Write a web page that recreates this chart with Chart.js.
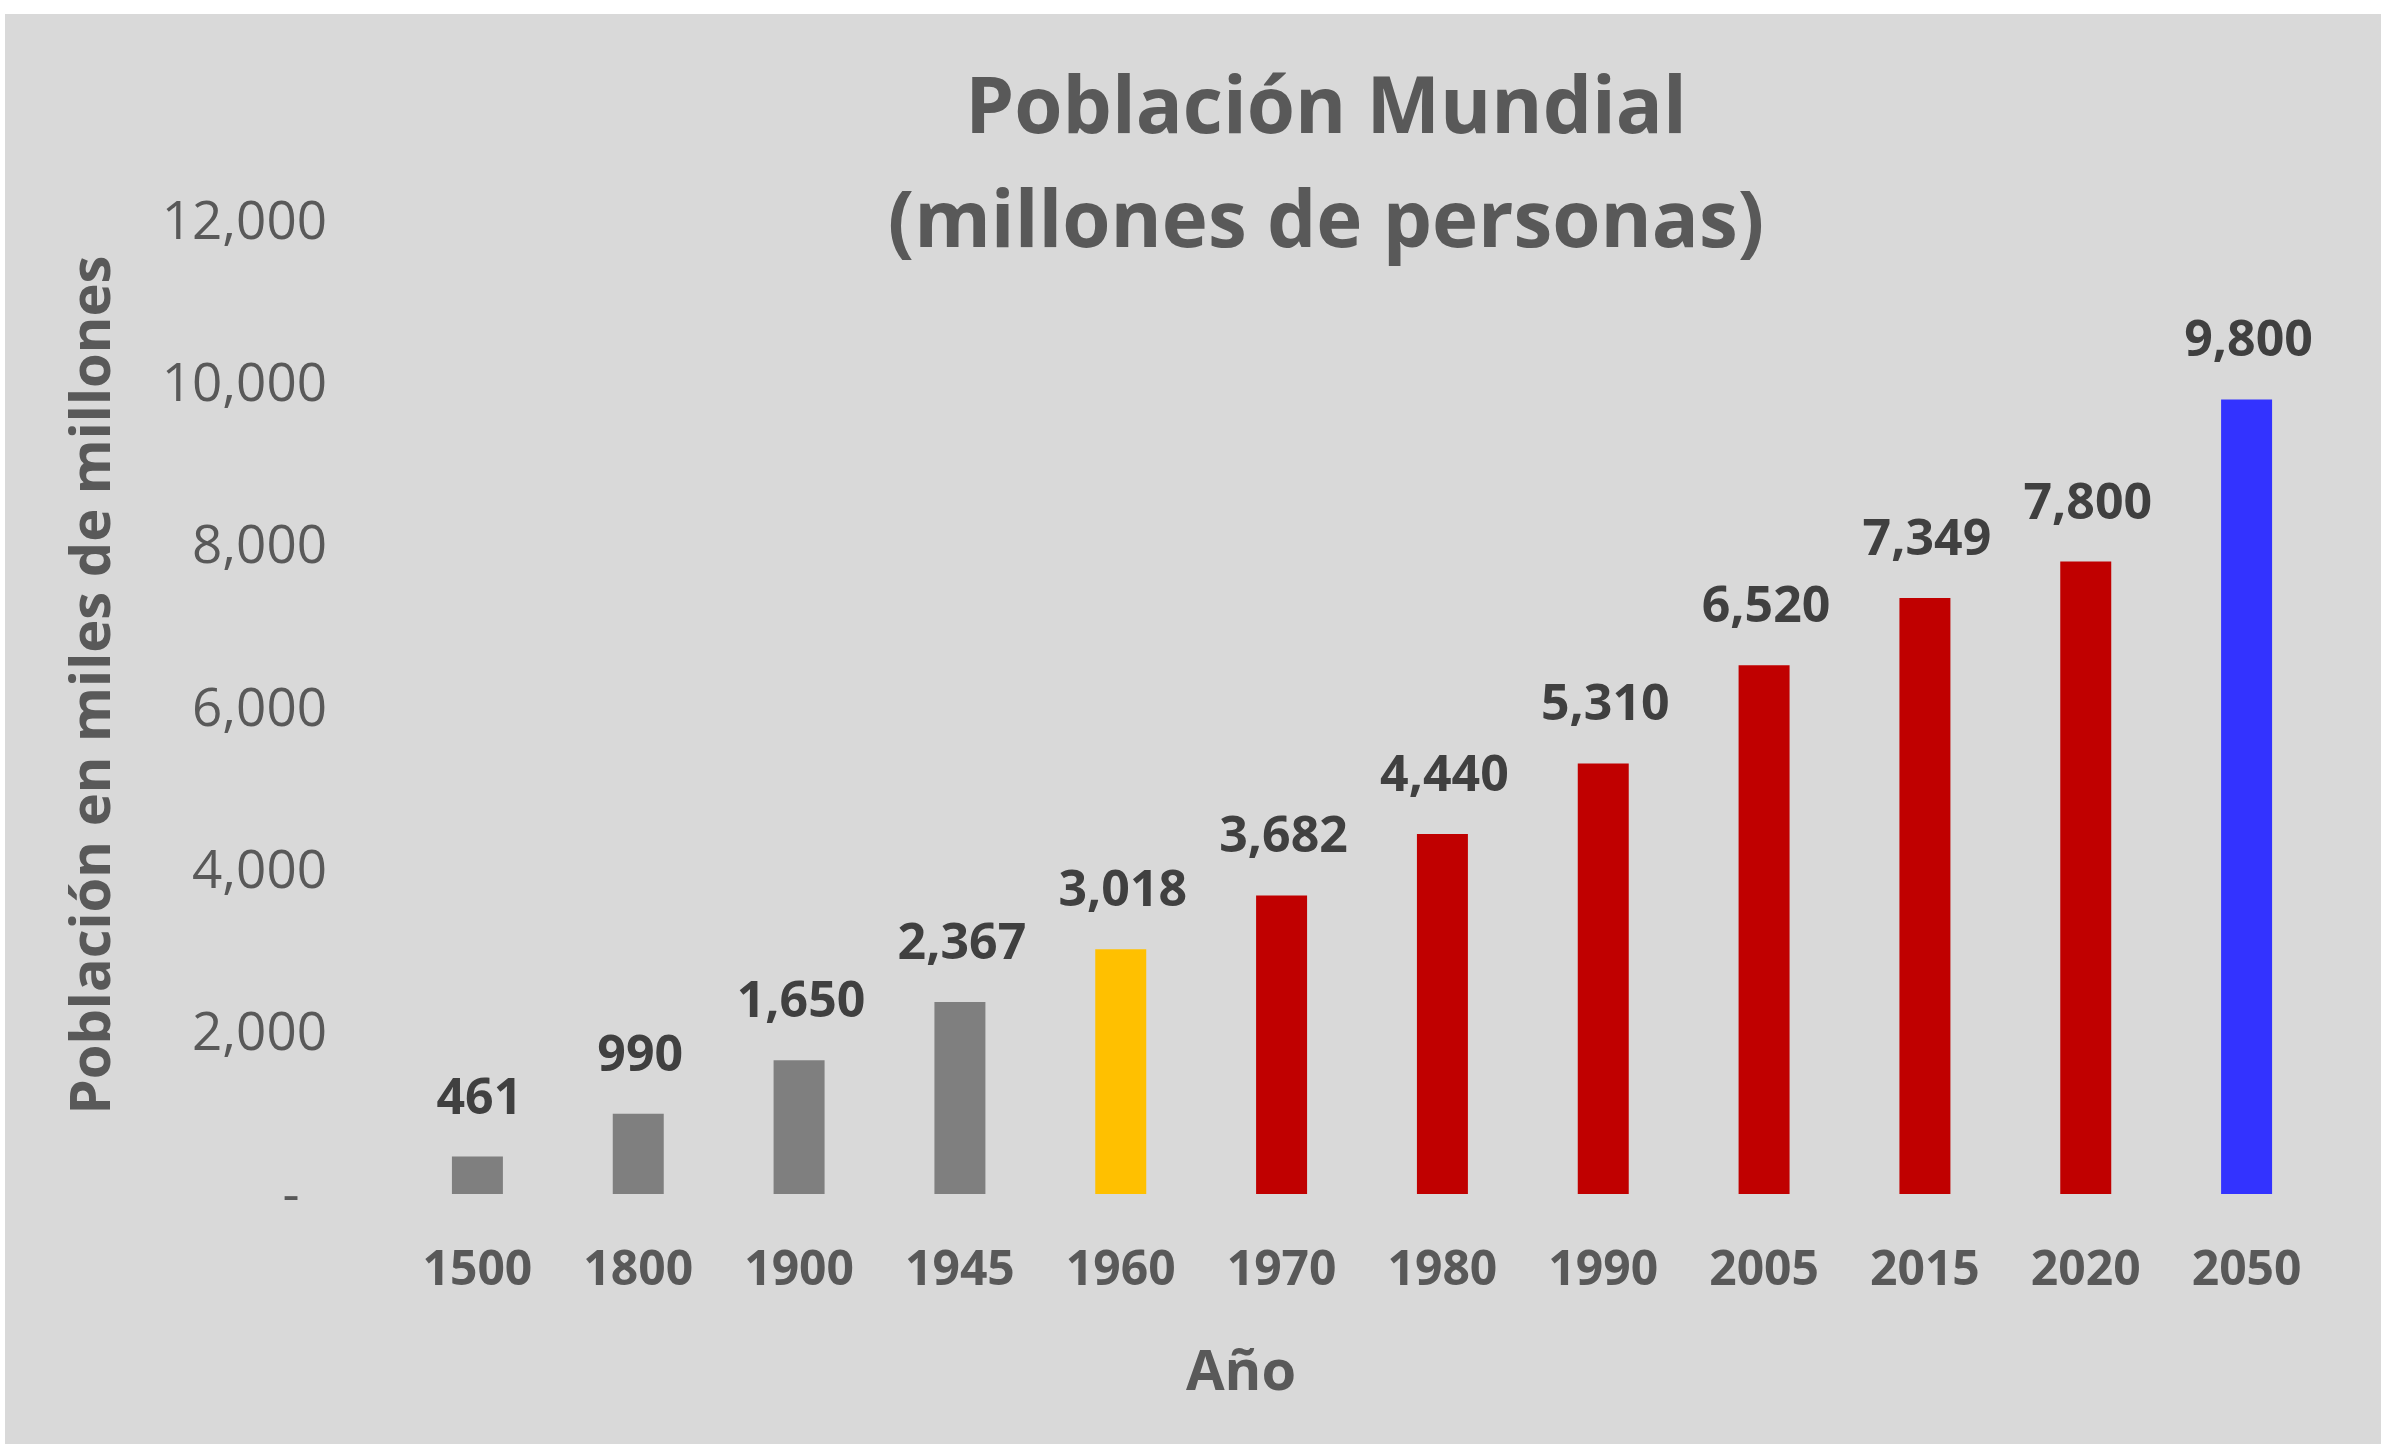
<!DOCTYPE html>
<html>
<head>
<meta charset="utf-8">
<script src="https://cdn.jsdelivr.net/npm/chart.js@4.4.1/dist/chart.umd.min.js"></script>
<style>
  html, body { margin: 0; padding: 0; background: #ffffff; width: 2381px; height: 1444px; overflow: hidden; }
  #wrap { position: absolute; left: 5px; top: 14px; width: 2376px; height: 1430px; background: #D9D9D9; }
  canvas { display: block; }
</style>
</head>
<body>
<div id="wrap"><canvas id="c" width="2376" height="1430"></canvas></div>
<script>
const categories = ['1500', '1800', '1900', '1945', '1960', '1970', '1980', '1990', '2005', '2015', '2020', '2050'];
const population = [461, 990, 1650, 2367, 3018, 3682, 4440, 5310, 6520, 7349, 7800, 9800];
const barColors = ['#7F7F7F', '#7F7F7F', '#7F7F7F', '#7F7F7F', '#FFC000', '#C00000', '#C00000', '#C00000', '#C00000', '#C00000', '#C00000', '#3333FF'];
const titleLines = ['Población Mundial', '(millones de personas)'];
const yAxisTitle = 'Población en miles de millones';
const xAxisTitle = 'Año';
const yTicks = { min: 0, max: 12000, step: 2000 };

const FONT = "'Open Sans', sans-serif";

const textPlugin = {
  id: 'texts',
  afterDatasetsDraw(chart) {
    const ctx = chart.ctx;
    const meta = chart.getDatasetMeta(0);
    ctx.save();
    // data labels
    ctx.font = 'bold 50px ' + FONT;
    ctx.fillStyle = '#404040';
    ctx.textAlign = 'center';
    ctx.textBaseline = 'alphabetic';
    meta.data.forEach((bar, i) => {
      const v = chart.data.datasets[0].data[i];
      ctx.fillText(v.toLocaleString('en-US'), bar.x + 2, bar.y - 43);
    });
    // chart title
    ctx.font = 'bold 78px ' + FONT;
    ctx.fillStyle = '#595959';
    ctx.fillText(titleLines[0], 1321, 119);
    ctx.fillText(titleLines[1], 1321, 233);
    // x axis title
    ctx.font = 'bold 56px ' + FONT;
    ctx.fillText(xAxisTitle, 1236, 1376);
    // y axis title
    ctx.translate(105, 671);
    ctx.rotate(-Math.PI / 2);
    ctx.fillText(yAxisTitle, 0, 0);
    ctx.restore();
  }
};

function build() {
  Chart.defaults.font.family = FONT;
  new Chart(document.getElementById('c'), {
    type: 'bar',
    data: {
      labels: categories,
      datasets: [{
        data: population,
        backgroundColor: barColors,
        borderWidth: 0,
        categoryPercentage: 1,
        barPercentage: 0.317
      }]
    },
    options: {
      responsive: false,
      animation: false,
      devicePixelRatio: 1,
      layout: { padding: { left: 0, right: 54, top: 207, bottom: 0 } },
      plugins: { legend: { display: false }, tooltip: { enabled: false }, title: { display: false } },
      scales: {
        x: {
          grid: { display: false, drawTicks: false },
          border: { display: false },
          ticks: { color: '#595959', font: { size: 48, weight: 'bold' }, padding: 49, maxRotation: 0, autoSkip: false },
          afterFit(scale) { scale.height = 250; }
        },
        y: {
          min: yTicks.min,
          max: yTicks.max,
          grid: { display: false, drawTicks: false },
          border: { display: false },
          ticks: {
            stepSize: yTicks.step,
            color: '#595959',
            font: { size: 53 },
            padding: 70,
            labelOffset: 3,
            callback: (v) => v === 0 ? '-  ' : Number(v).toLocaleString('en-US')
          },
          afterFit(scale) { scale.width = 392; }
        }
      }
    },
    plugins: [textPlugin]
  });
}

Promise.all([
  document.fonts.load("bold 50px 'Open Sans'"),
  document.fonts.load("50px 'Open Sans'")
]).then(build, build);
</script>
</body>
</html>
